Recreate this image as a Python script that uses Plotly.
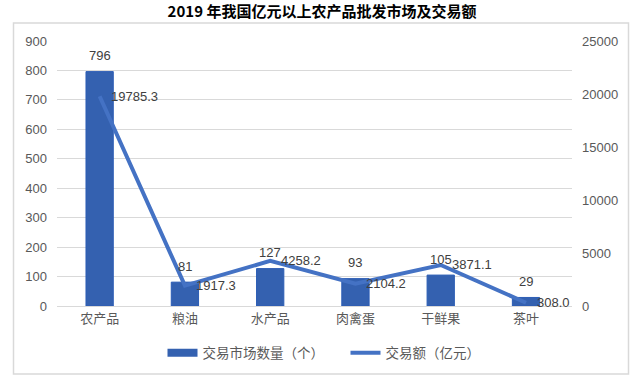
import plotly.graph_objects as go

categories = ["农产品", "粮油", "水产品", "肉禽蛋", "干鲜果", "茶叶"]
market_counts = [796, 81, 127, 93, 105, 29]
trade_amounts = [19785.3, 1917.3, 4258.2, 2104.2, 3871.1, 308.0]
left_ticks = [0, 100, 200, 300, 400, 500, 600, 700, 800, 900]
right_ticks = [0, 5000, 10000, 15000, 20000, 25000]

W, H = 644, 384
L, R, T, B = 57, 72, 41, 78
pw, ph = W - L - R, H - T - B

FONT = "Noto Sans CJK SC, Liberation Sans, sans-serif"
NUMFONT = "Liberation Sans, Noto Sans CJK SC, sans-serif"
TICKFONT = dict(family=NUMFONT, size=13, color="#595959")
LABELFONT = dict(family=NUMFONT, size=13, color="#404040")
BAR_COLOR = "#3461B0"
LINE_COLOR = "#4472C4"

fig = go.Figure()
fig.add_trace(go.Bar(
    x=categories, y=market_counts, name="交易市场数量（个）",
    marker=dict(color=BAR_COLOR, line=dict(color="#2C5DB5", width=1)),
    width=0.32, showlegend=False,
))
fig.add_trace(go.Scatter(
    x=categories, y=trade_amounts, name="交易额（亿元）", yaxis="y2",
    mode="lines", line=dict(color=LINE_COLOR, width=4), showlegend=False,
))
# legend entries
fig.add_trace(go.Scatter(
    x=[None], y=[None], name="交易市场数量（个）", mode="lines",
    line=dict(color=BAR_COLOR, width=8),
))
fig.add_trace(go.Scatter(
    x=[None], y=[None], name="交易额（亿元）", mode="lines",
    line=dict(color=LINE_COLOR, width=4),
))

for c, v in zip(categories, market_counts):
    fig.add_annotation(x=c, y=v, xref="x", yref="y", text=str(v), showarrow=False,
                       xanchor="center", yanchor="middle", yshift=16, font=LABELFONT)
for c, v in zip(categories, trade_amounts):
    fig.add_annotation(x=c, y=v, xref="x", yref="y2", text=f"{v:.1f}", showarrow=False,
                       xanchor="left", yanchor="middle", xshift=9, font=LABELFONT)


def px(x):
    return (x - L) / pw


def py(y):
    return (H - B - y) / ph


fig.add_shape(type="rect", xref="paper", yref="paper",
              x0=px(13.5), x1=px(628.5), y0=py(374), y1=py(23),
              line=dict(color="#D9D9D9", width=1.5), layer="below")

fig.update_layout(
    width=W, height=H,
    margin=dict(l=L, r=R, t=T, b=B),
    paper_bgcolor="white", plot_bgcolor="white",
    title=dict(text="<b>2019 年我国亿元以上农产品批发市场及交易额</b>",
               x=0.5, xanchor="center", y=1 - 12 / H, yanchor="middle",
               font=dict(family=FONT, size=15, color="#000000")),
    xaxis=dict(tickfont=dict(family=FONT, size=13, color="#595959"),
               showline=True, linecolor="#D9D9D9", linewidth=1, ticks=""),
    yaxis=dict(range=[0, 900], tickvals=left_ticks, tickfont=TICKFONT,
               showgrid=True, gridcolor="#D9D9D9", gridwidth=1, zeroline=False,
               ticks="", ticklabelstandoff=9),
    yaxis2=dict(range=[0, 25000], tickvals=right_ticks,
                ticktext=[str(t) for t in right_ticks], tickfont=TICKFONT,
                overlaying="y", side="right", showgrid=False, zeroline=False,
                ticks="", ticklabelstandoff=9),
    legend=dict(orientation="h", x=px(345.5), xanchor="center", y=py(353), yanchor="middle",
                font=dict(family=FONT, size=13.5, color="#595959"),
                tracegroupgap=0, entrywidth=138),
    showlegend=True,
)

fig.write_html("out.html", config={"displayModeBar": False},
               post_script=["document.body.style.margin='0';"])
